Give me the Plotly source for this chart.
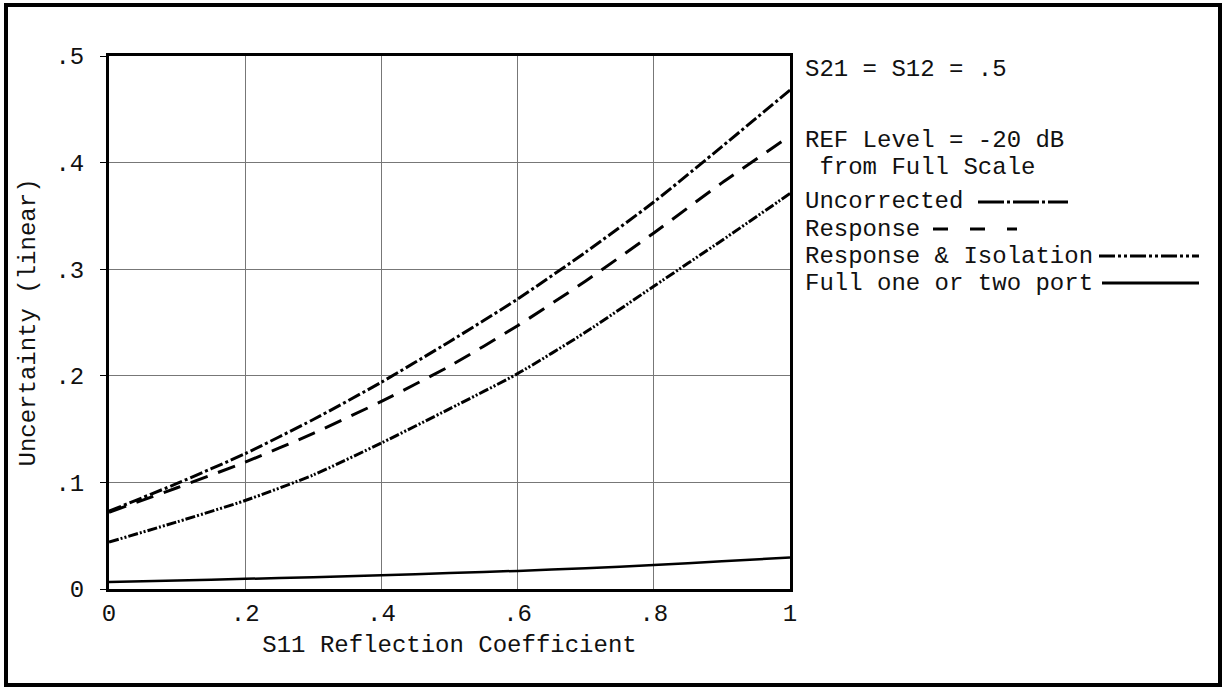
import plotly.graph_objects as go

# S11 reflection coefficient (x) and measurement uncertainty (linear) per calibration type
s11 = [0.0, 0.1, 0.2, 0.3, 0.4, 0.5, 0.6, 0.7, 0.8, 0.9, 1.0]
uncorrected = [0.073, 0.099, 0.127, 0.159, 0.194, 0.232, 0.272, 0.316, 0.363, 0.415, 0.468]
response = [0.072, 0.095, 0.119, 0.146, 0.176, 0.209, 0.247, 0.289, 0.334, 0.381, 0.425]
resp_isolation = [0.044, 0.063, 0.083, 0.107, 0.137, 0.169, 0.202, 0.241, 0.284, 0.327, 0.371]
full_port = [0.0066, 0.008, 0.0095, 0.011, 0.0128, 0.015, 0.017, 0.0195, 0.0225, 0.026, 0.0295]

x_ticks = [0, 0.2, 0.4, 0.6, 0.8, 1.0]
x_ticktext = ["0", ".2", ".4", ".6", ".8", "1"]
y_ticks = [0, 0.1, 0.2, 0.3, 0.4, 0.5]
y_ticktext = ["0", ".1", ".2", ".3", ".4", ".5"]

series_names = ["Uncorrected", "Response", "Response & Isolation", "Full one or two port"]
series_values = [uncorrected, response, resp_isolation, full_port]

# plotter lettering: ~14px caps on a ~14.4px cell
FONT = "Liberation Mono"
FONT_SIZE = 24
text_font = dict(family=FONT, size=FONT_SIZE, color="#111")
dashes = ["13px,3px,3px,3px", "18px,11px", "10px,2px,2px,2px,2px,2px", "solid"]
widths = [3, 3, 3, 2.5]

# plot area in pixels
W, H = 1224, 688
L, R, T, B = 109, 790, 56, 589


def px_x(p):
    return (p - L) / (R - L)


def px_y(p):
    return (B - p) / (B - T)


fig = go.Figure()
for name, vals, dash, w in zip(series_names, series_values, dashes, widths):
    fig.add_trace(go.Scatter(
        x=s11, y=vals, mode="lines", name=name,
        line=dict(color="black", width=w, dash=dash, shape="spline", smoothing=0.6),
        showlegend=False,
    ))

shapes = [
    # outer frame
    dict(type="rect", xref="paper", yref="paper",
         x0=px_x(6), x1=px_x(1220), y0=px_y(685), y1=px_y(5),
         line=dict(color="black", width=4)),
]

# right-hand notes
annotations = [
    dict(text="S21 = S12 = .5", x=px_x(803), y=px_y(70)),
    dict(text="REF Level = -20 dB", x=px_x(803), y=px_y(140)),
    dict(text=" from Full Scale", x=px_x(803), y=px_y(167)),
]

# legend: label followed by a line sample
legend_rows = [202, 229, 256, 283]
legend_line_x = [(978, 1068), (933, 1017), (1099, 1199), (1102, 1199)]
legend_dash = ["26px,3px,3px,3px", "15px,22px", "16px,3px,3px,3px,3px,3px", "solid"]
for name, row, (lx0, lx1), dash in zip(series_names, legend_rows, legend_line_x, legend_dash):
    annotations.append(dict(text=name, x=px_x(803), y=px_y(row)))
    shapes.append(dict(type="line", xref="paper", yref="paper",
                       x0=px_x(lx0), x1=px_x(lx1), y0=px_y(row), y1=px_y(row),
                       line=dict(color="black", width=3, dash=dash)))

for a in annotations:
    a.update(xref="paper", yref="paper", xanchor="left", yanchor="middle", align="left",
             showarrow=False, font=text_font)

fig.update_layout(
    width=W, height=H,
    margin=dict(l=L, r=W - R, t=T, b=H - B),
    paper_bgcolor="white", plot_bgcolor="white",
    font=text_font,
    shapes=shapes, annotations=annotations,
)
fig.update_xaxes(
    range=[0, 1], tickvals=x_ticks, ticktext=x_ticktext,
    showgrid=True, gridcolor="#777", gridwidth=1,
    showline=True, linecolor="black", linewidth=3, mirror=True,
    ticks="", zeroline=False, tickfont=text_font,
    title=dict(text="S11 Reflection Coefficient", standoff=9, font=text_font),
)
fig.update_yaxes(
    range=[0, 0.5], tickvals=y_ticks, ticktext=y_ticktext,
    showgrid=True, gridcolor="#777", gridwidth=1,
    showline=True, linecolor="black", linewidth=3, mirror=True,
    ticks="outside", ticklen=6, tickcolor="black", tickwidth=1,
    zeroline=False, ticklabelstandoff=11, tickfont=text_font,
    title=dict(text="Uncertainty (linear)", standoff=13, font=text_font),
)

# no page margin, so the chart sits at 0,0 like the reference
fig.write_html("out.html", config={"displayModeBar": False},
               post_script="document.body.style.margin = '0';")
